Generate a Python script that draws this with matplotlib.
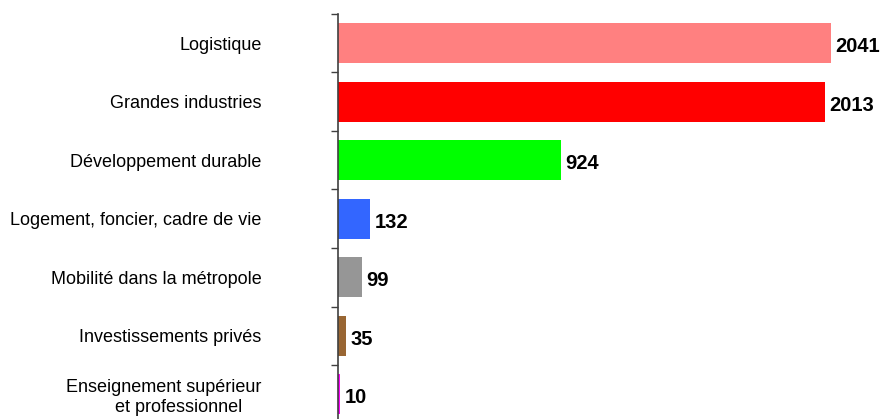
import matplotlib.pyplot as plt
import numpy as np

categories = [
    "Logistique",
    "Grandes industries",
    "Développement durable",
    "Logement, foncier, cadre de vie",
    "Mobilité dans la métropole",
    "Investissements privés",
    "Enseignement supérieur\n      et professionnel",
]
values = [2041, 2013, 924, 132, 99, 35, 10]
colors = ["#FF8080", "#FF0000", "#00FF00", "#3366FF", "#969696", "#996633", "#FF00FF"]

plt.rcParams["font.family"] = ["Liberation Sans", "DejaVu Sans"]

fig = plt.figure(figsize=(8.83, 4.19), dpi=100)
ax = fig.add_axes([338 / 883, -4.5 / 419, 545 / 883, 409.5 / 419])

y = np.arange(len(categories))
ax.barh(y, values, height=0.68, color=colors)

for yi, v in zip(y, values):
    ax.text(v + 18, yi + 0.06, str(v), va="center", ha="left",
            fontsize=14.5, fontweight="bold")

ax.set_xlim(0, 2255)
ax.set_ylim(len(categories) - 0.5, -0.5)

ax.set_yticks(y)
ax.set_yticklabels(categories, fontsize=13, ha="right", multialignment="center")
ax.tick_params(axis="y", which="major", length=0, pad=55)
ax.set_yticks(np.arange(len(categories) + 1) - 0.5, minor=True)
ax.tick_params(axis="y", which="minor", length=5, width=1, color="#404040")

ax.set_xticks([])
for s in ["top", "right", "bottom"]:
    ax.spines[s].set_visible(False)
ax.spines["left"].set_color("#404040")
ax.spines["left"].set_linewidth(1.2)

fig.savefig("out.png", dpi=100)
